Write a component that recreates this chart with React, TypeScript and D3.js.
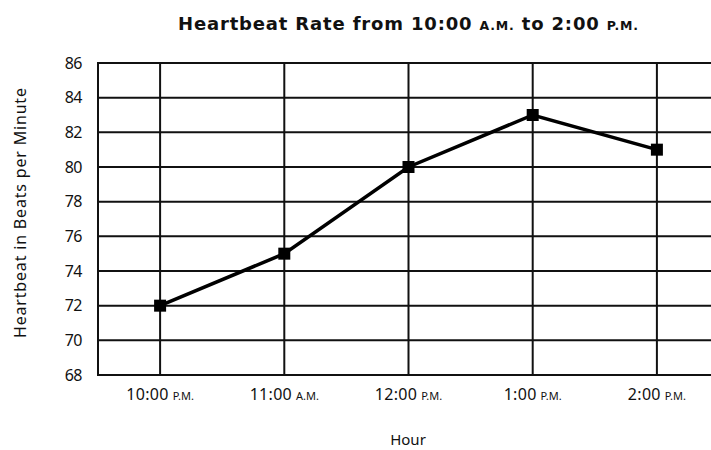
import React, { useEffect, useRef } from "react";
import * as d3 from "d3";

// chart data
const hours = ["10:00", "11:00", "12:00", "1:00", "2:00"];
const meridiems = ["P.M.", "A.M.", "P.M.", "P.M.", "P.M."];
const heartRates = [72, 75, 80, 83, 81];
const yTicks = [68, 70, 72, 74, 76, 78, 80, 82, 84, 86];

const FONT = "'Noto Sans', 'Open Sans', sans-serif";

const App: React.FC = () => {
  const svgRef = useRef<SVGSVGElement | null>(null);

  useEffect(() => {
    const width = 711;
    const height = 450;
    const margin = { top: 63, right: -8, bottom: 75, left: 98 };

    const svg = d3.select(svgRef.current);
    svg.selectAll("*").remove();
    svg.attr("width", width).attr("height", height);

    const x = d3
      .scalePoint<string>()
      .domain(hours)
      .range([margin.left, width - margin.right])
      .padding(0.5);

    const y = d3
      .scaleLinear()
      .domain([68, 86])
      .range([height - margin.bottom, margin.top]);

    const plot = svg.append("g");

    // horizontal grid lines
    plot
      .selectAll(".hgrid")
      .data(yTicks)
      .enter()
      .append("line")
      .attr("x1", margin.left)
      .attr("x2", width - margin.right)
      .attr("y1", (d) => y(d))
      .attr("y2", (d) => y(d))
      .attr("stroke", "#111")
      .attr("stroke-width", 2);

    // vertical grid lines
    plot
      .selectAll(".vgrid")
      .data(hours)
      .enter()
      .append("line")
      .attr("x1", (d) => x(d)!)
      .attr("x2", (d) => x(d)!)
      .attr("y1", y(68))
      .attr("y2", y(86))
      .attr("stroke", "#111")
      .attr("stroke-width", 2);

    // left border
    plot
      .append("line")
      .attr("x1", margin.left)
      .attr("x2", margin.left)
      .attr("y1", y(68) + 1)
      .attr("y2", y(86) - 1)
      .attr("stroke", "#111")
      .attr("stroke-width", 2);

    // y tick labels
    svg
      .selectAll(".ylab")
      .data(yTicks)
      .enter()
      .append("text")
      .attr("x", margin.left - 16)
      .attr("y", (d) => y(d))
      .attr("dy", "0.36em")
      .attr("text-anchor", "end")
      .attr("font-family", FONT)
      .attr("font-size", 16)
      .attr("letter-spacing", -0.5)
      .attr("fill", "#111")
      .text((d) => d);

    // x tick labels
    const xl = svg
      .selectAll(".xlab")
      .data(hours)
      .enter()
      .append("text")
      .attr("x", (d) => x(d)!)
      .attr("y", 400)
      .attr("text-anchor", "middle")
      .attr("font-family", FONT)
      .attr("fill", "#111");
    xl.append("tspan").attr("font-size", 16).attr("letter-spacing", 0.3).text((d) => d);
    xl.append("tspan")
      .attr("font-size", 11)
      .attr("dx", 4)
      .text((d, i) => meridiems[i]);

    // line
    const line = d3
      .line<number>()
      .x((d, i) => x(hours[i])!)
      .y((d) => y(d));

    svg
      .append("path")
      .attr("d", line(heartRates))
      .attr("fill", "none")
      .attr("stroke", "#000")
      .attr("stroke-width", 3.5);

    // markers
    const size = 12;
    svg
      .selectAll(".pt")
      .data(heartRates)
      .enter()
      .append("rect")
      .attr("x", (d, i) => x(hours[i])! - size / 2)
      .attr("y", (d) => y(d) - size / 2)
      .attr("width", size)
      .attr("height", size)
      .attr("fill", "#000");

    // title
    const title = svg
      .append("text")
      .attr("x", 408)
      .attr("y", 30)
      .attr("text-anchor", "middle")
      .attr("font-family", "'DejaVu Sans', sans-serif")
      .attr("font-weight", "bold")
      .attr("fill", "#111")
      .attr("textLength", 460)
      .attr("lengthAdjust", "spacing");
    title.append("tspan").attr("font-size", 18).text("Heartbeat Rate from 10:00 ");
    title.append("tspan").attr("font-size", 12.5).text("A.M.");
    title.append("tspan").attr("font-size", 18).text(" to 2:00 ");
    title.append("tspan").attr("font-size", 12.5).text("P.M.");

    // axis titles
    svg
      .append("text")
      .attr("transform", `translate(26, 213) rotate(-90)`)
      .attr("text-anchor", "middle")
      .attr("font-family", FONT)
      .attr("font-size", 16)
      .attr("fill", "#111")
      .attr("textLength", 250)
      .attr("lengthAdjust", "spacing")
      .text("Heartbeat in Beats per Minute");

    svg
      .append("text")
      .attr("x", 408)
      .attr("y", 445)
      .attr("text-anchor", "middle")
      .attr("font-family", FONT)
      .attr("font-size", 15)
      .attr("fill", "#111")
      .text("Hour");
  }, []);

  return (
    <div style={{ position: "absolute", left: 0, top: 0 }}>
      <svg ref={svgRef} style={{ display: "block" }}></svg>
    </div>
  );
};

export default App;
